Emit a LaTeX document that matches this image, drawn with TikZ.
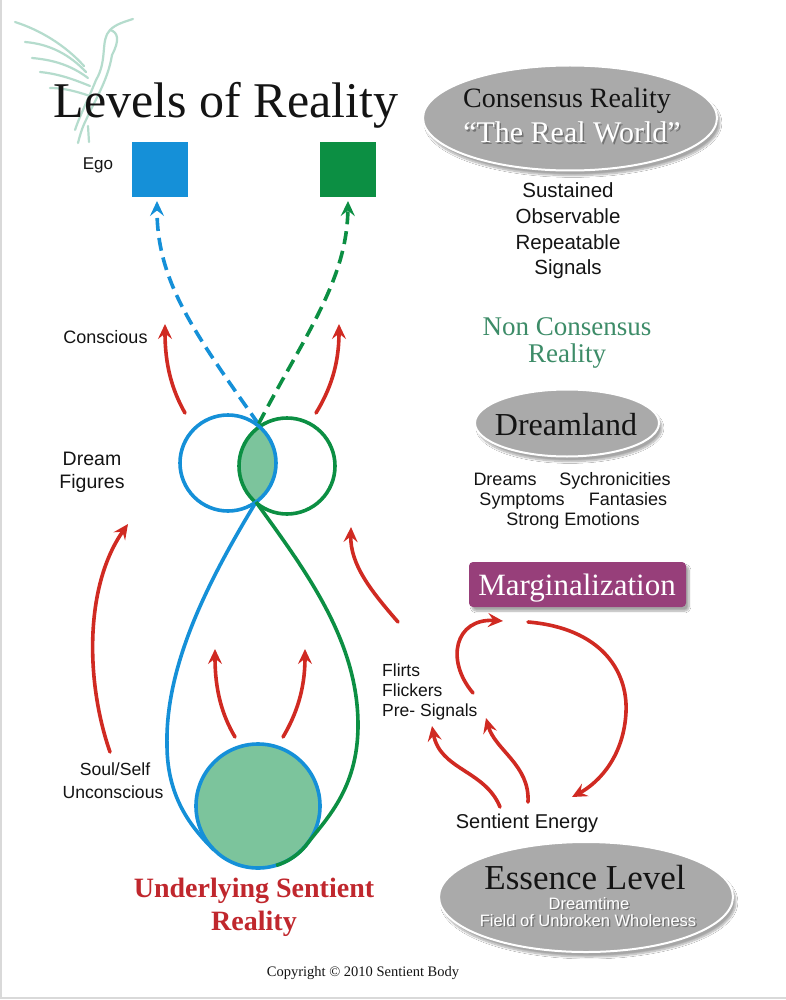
\documentclass[tikz,border=0pt]{standalone}
\usepackage{fontspec}
\setmainfont{Liberation Serif}
\setsansfont{Liberation Sans}
\usetikzlibrary{arrows.meta,shapes.geometric,shadows,shadows.blur}
\definecolor{blueC}{RGB}{21,144,216}
\definecolor{greenC}{RGB}{12,143,67}
\definecolor{mintC}{RGB}{124,196,156}
\definecolor{redC}{RGB}{208,42,34}
\definecolor{purpleC}{RGB}{151,63,122}
\definecolor{grayE}{RGB}{170,170,170}
\definecolor{ncGreen}{RGB}{61,140,104}
\definecolor{ulRed}{RGB}{192,39,45}
\definecolor{birdC}{RGB}{181,220,205}
\definecolor{inkC}{RGB}{20,20,20}
\newcommand{\shadowtxt}[1]{\makebox[0pt][l]{\hspace{1.5pt}\raisebox{-1.5pt}{\textcolor{black!55}{#1}}}#1}
\begin{document}
\begin{tikzpicture}[x=1pt,y=-1pt,
  sanslbl/.style={font=\sffamily\fontsize{#1}{#1}\selectfont, text=inkC, inner sep=0pt, anchor=base},
  seriflbl/.style={font=\fontsize{#1}{#1}\selectfont, inner sep=0pt, anchor=base},
  tipA/.style={-{Stealth[length=15pt,width=14pt,inset=5.5pt]}},
  redarr/.style={draw=redC, line width=3.6pt, line cap=round, tipA},
  bluedash/.style={draw=blueC, line width=3.6pt, dash pattern=on 13pt off 7pt, tipA},
  greendash/.style={draw=greenC, line width=3.6pt, dash pattern=on 13pt off 7pt, tipA},
  grayell/.style={ellipse, fill=grayE, draw=white, line width=2pt, inner sep=0pt,
     blur shadow={shadow xshift=3pt, shadow yshift=-5pt, shadow blur steps=10, shadow opacity=35}},
  birdstroke/.style={draw=birdC, line width=2.2pt, line cap=round},
  loopline/.style={line width=3.6pt}
]
\useasboundingbox (0,0) rectangle (786,1000);
\fill[white] (0,0) rectangle (786,1000);
\draw[black!15, line width=1.5pt] (1,0) -- (1,998) -- (786,998);

% ---------- bird ----------
\draw[birdstroke] (15,22) .. controls (40,30) and (65,45) .. (84,66);
\draw[birdstroke] (25,42) .. controls (50,44) and (70,55) .. (86,72);
\draw[birdstroke] (32,58) .. controls (55,60) and (72,66) .. (88,78);
\draw[birdstroke] (40,72) .. controls (60,74) and (75,80) .. (90,86);
\draw[birdstroke] (50,88) .. controls (65,88) and (78,92) .. (90,96);
\draw[birdstroke] (96,80) .. controls (108,60) and (100,40) .. (110,30) .. controls (116,24) and (124,22) .. (133,19);
\draw[birdstroke] (110,30) .. controls (118,32) and (120,40) .. (112,55);
\draw[birdstroke] (112,55) .. controls (108,80) and (95,100) .. (86,120) .. controls (82,128) and (80,135) .. (78,143);
\draw[birdstroke] (96,80) .. controls (88,100) and (80,115) .. (75,130);
\draw[birdstroke] (88,126) -- (89,142);

% ---------- title ----------
\node[seriflbl=50, text=inkC] (title) at (226,118) {Levels of Reality};

% ---------- ego squares ----------
\node[sanslbl=17] (ego) at (98,170) {Ego};
\node[fill=blueC, minimum width=56pt, minimum height=55pt, inner sep=0pt] (bsq) at (160,169.5) {};
\node[fill=greenC, minimum width=56pt, minimum height=55pt, inner sep=0pt] (gsq) at (348,169.5) {};

% ---------- coordinates ----------
\coordinate (lensTop) at (258.5,424);
\coordinate (lensBot) at (256,502);
\coordinate (bTip) at (157,201);
\coordinate (gTip) at (348,201);
\coordinate (bJoin) at (214,850);
\coordinate (gJoin) at (305.5,846);

% ---------- dashed arrows to ego ----------
\draw[bluedash] (lensTop) .. controls (192,330) and (157,280) .. (bTip);
\draw[greendash] (lensTop) .. controls (305,335) and (347,280) .. (gTip);

% ---------- dream figure circles ----------
\begin{scope}
  \clip (228,463) circle[radius=48];
  \fill[mintC] (287,466) circle[radius=48];
\end{scope}
\node[circle, draw=greenC, line width=3.6pt, minimum size=96pt, inner sep=0pt] (gcirc) at (287,466) {};
\node[circle, draw=blueC, line width=3.6pt, minimum size=96pt, inner sep=0pt] (bcirc) at (228,463) {};

% ---------- lower loop ----------
\draw[blueC, loopline] (lensBot) .. controls (215,570) and (165,660) .. (167,745) .. controls (167,800) and (194,830) .. (bJoin);
\node[circle, fill=mintC, draw=blueC, line width=3.6pt, minimum size=124pt, inner sep=0pt] (soul) at (258,806) {};
\draw[greenC, loopline] (lensBot) .. controls (305,570) and (358,640) .. (358,725) .. controls (358,790) and (325,820) .. (gJoin) arc[start angle=40, end angle=73, radius=62];

% ---------- red arrows ----------
\coordinate (c1a) at (185,413); \coordinate (c1b) at (165,324);
\coordinate (c2a) at (316,413); \coordinate (c2b) at (339,324);
\draw[redarr] (c1a) .. controls (172,390) and (165,365) .. (c1b);
\draw[redarr] (c2a) .. controls (330,390) and (339,365) .. (c2b);
\coordinate (c3a) at (110,752); \coordinate (c3b) at (128,524);
\draw[redarr] (c3a) .. controls (85,680) and (85,585) .. (c3b);
\coordinate (c4a) at (398,622); \coordinate (c4b) at (351,527);
\draw[redarr] (c4a) .. controls (372,592) and (350,565) .. (c4b);
\coordinate (c5a) at (235,737); \coordinate (c5b) at (215,649);
\coordinate (c6a) at (283,737); \coordinate (c6b) at (305,649);
\draw[redarr] (c5a) .. controls (222,715) and (215,690) .. (c5b);
\draw[redarr] (c6a) .. controls (296,715) and (305,690) .. (c6b);

% ---------- right cluster ----------
\node[fill=purpleC, rounded corners=4pt, minimum width=217pt, minimum height=45pt, inner sep=0pt,
      blur shadow={shadow xshift=3pt, shadow yshift=-4pt, shadow blur steps=8, shadow opacity=35}] (marg) at (577.5,584.5) {};
\node[seriflbl=31, text=white] (margT) at (577,595) {Marginalization};

\node[sanslbl=17.5, anchor=base west] (flirts) at (382,676) {Flirts};
\node[sanslbl=17.5, anchor=base west] (flick) at (382,696) {Flickers};
\node[sanslbl=17.5, anchor=base west] (presig) at (382,716) {Pre- Signals};
\node[sanslbl=20] (senE) at (527,828) {Sentient Energy};

\coordinate (r1a) at (473,693); \coordinate (r1b) at (503,621);
\draw[redarr] (r1a) .. controls (445,660) and (455,618) .. (r1b);
\coordinate (r2a) at (528,622); \coordinate (r2b) at (572,797);
\draw[redarr] (r2a) .. controls (600,628) and (628,670) .. (626,712) .. controls (624,755) and (600,782) .. (r2b);
\coordinate (r3a) at (500,807); \coordinate (r3b) at (432,726);
\draw[redarr] (r3a) .. controls (485,770) and (440,770) .. (r3b);
\coordinate (r4a) at (528,802); \coordinate (r4b) at (486,718);
\draw[redarr] (r4a) .. controls (530,765) and (495,750) .. (r4b);

% ---------- left labels ----------
\node[sanslbl=18] (consc) at (105.5,343) {Conscious};
\node[sanslbl=19.5] (dream1) at (92,465) {Dream};
\node[sanslbl=19.5] (dream2) at (92,488) {Figures};
\node[sanslbl=17.6] (soulself) at (115,775) {Soul/Self};
\node[sanslbl=17.6] (uncons) at (113,798) {Unconscious};

\node[seriflbl=28, text=ulRed, font=\bfseries\fontsize{28}{28}\selectfont] (ul1) at (254,897) {Underlying Sentient};
\node[seriflbl=28, text=ulRed, font=\bfseries\fontsize{28}{28}\selectfont] (ul2) at (254,930) {Reality};
\node[seriflbl=14.5, text=inkC] (copy) at (363,976) {Copyright \textcopyright\ 2010 Sentient Body};

% ---------- consensus reality ----------
\node[grayell, minimum width=294pt, minimum height=105pt] (consE) at (570,118) {};
\node[seriflbl=28, text=inkC] (consT) at (567,108) {Consensus Reality};
\node[seriflbl=30, text=white] (rw) at (572,143) {\shadowtxt{“The Real World”}};
\node[sanslbl=20.5] (s1) at (568,198) {Sustained};
\node[sanslbl=20.5] (s2) at (568,223.5) {Observable};
\node[sanslbl=20.5] (s3) at (568,249) {Repeatable};
\node[sanslbl=20.5] (s4) at (568,274) {Signals};

% ---------- non consensus ----------
\node[seriflbl=27, text=ncGreen] (nc1) at (567,335) {Non Consensus};
\node[seriflbl=27, text=ncGreen] (nc2) at (567,362) {Reality};
\node[grayell, minimum width=184pt, minimum height=67pt] (dreamE) at (567,423) {};
\node[seriflbl=32, text=inkC] (dreamT) at (566,435) {Dreamland};
\node[sanslbl=18] (dl1) at (505,485) {Dreams};
\node[sanslbl=18] (dl2) at (615,485) {Sychronicities};
\node[sanslbl=18] (dl3) at (522,505) {Symptoms};
\node[sanslbl=18] (dl4) at (628,505) {Fantasies};
\node[sanslbl=18] (dl5) at (573,525) {Strong Emotions};

% ---------- essence level ----------
\node[grayell, minimum width=294pt, minimum height=110pt] (essE) at (586,897) {};
\node[seriflbl=35, text=inkC] (essT) at (585,889) {Essence Level};
\node[sanslbl=16.5, text=white] (dt) at (589,909) {\shadowtxt{Dreamtime}};
\node[sanslbl=16.5, text=white] (fu) at (588,926) {\shadowtxt{Field of Unbroken Wholeness}};
\end{tikzpicture}
\end{document}
